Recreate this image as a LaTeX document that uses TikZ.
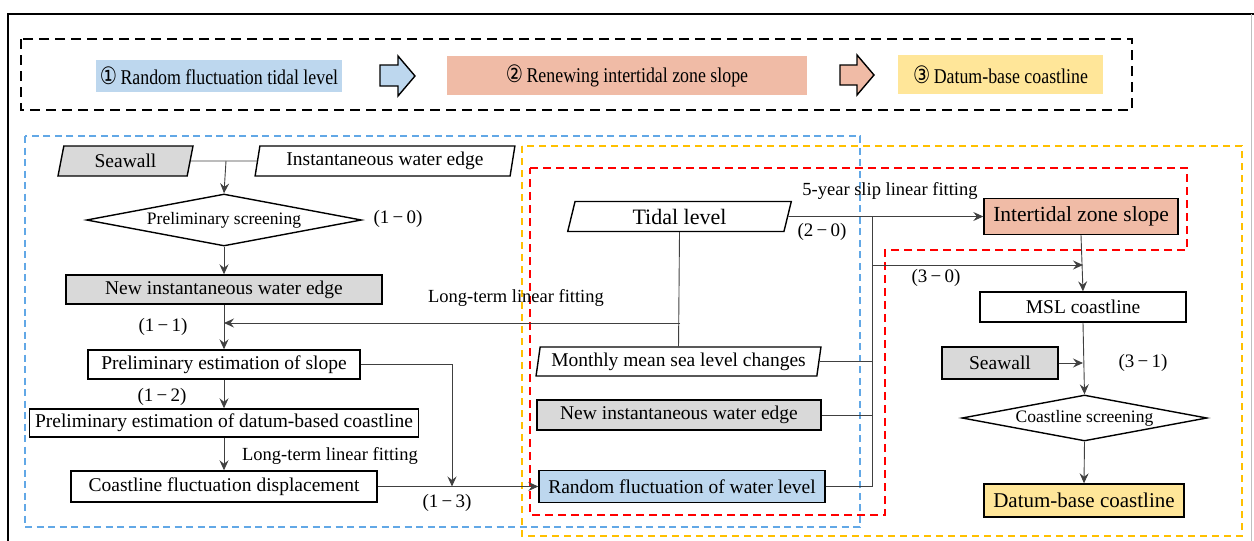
\documentclass[tikz,border=0pt]{standalone}
\usepackage{fontspec}
\setmainfont{Liberation Serif}
\newfontfamily\circfont[FakeStretch=0.8]{DejaVu Sans}
\newfontfamily\legendfont[FakeStretch=0.85]{Liberation Serif}
\usetikzlibrary{shapes.geometric,arrows.meta}
\definecolor{fillblue}{HTML}{BDD7EE}
\definecolor{fillsalmon}{HTML}{F0BBA6}
\definecolor{fillyellow}{HTML}{FFE699}
\definecolor{fillgrey}{HTML}{D9D9D9}
\definecolor{dashblue}{HTML}{62A8E6}
\definecolor{dashyellow}{HTML}{FFC000}
\definecolor{dashred}{HTML}{FF0000}
\definecolor{wire}{HTML}{404040}
\newcommand{\fs}[1]{\fontsize{#1}{#1}\selectfont}
\begin{document}
\begin{tikzpicture}[x=1pt,y=-1pt,
  box/.style={draw=black, line width=1.4pt, rectangle, inner sep=0pt, font=\fs{19.5}},
  para/.style={draw=black, line width=1.4pt, trapezium, trapezium left angle=78,
    trapezium right angle=102, trapezium stretches=true, inner sep=0pt, font=\fs{19.5}},
  decide/.style={draw=black, line width=1.4pt, diamond, aspect=5.3, inner sep=0pt, font=\fs{17.5}},
  legend/.style={rectangle, inner sep=0pt, font=\legendfont\fs{21}},
  lbl/.style={inner sep=0pt, font=\fs{19}},
  wirel/.style={draw=wire, line width=0.9pt},
  arr/.style={wirel, -{Stealth[length=10pt,width=9pt,inset=3.5pt]}},
  groupbox/.style={line width=1.6pt},
  blockarrow/.style={draw=black, line width=1.4pt, line join=miter}
]
\useasboundingbox (0,0) rectangle (1254,541);

% outer frame
\draw[line width=2pt, black] (8,541) -- (8,14) -- (1254,14);
\draw[line width=1pt, black!25] (1251,14) -- (1251,541);

% legend strip
\draw[line width=2.5pt, dash pattern=on 10pt off 6pt] (21,39) rectangle (1132,110);
\node[legend, fill=fillblue, minimum width=246pt, minimum height=32pt] (lg1) at (219,76)
  {{\circfont\fs{24}①}\,Random fluctuation tidal level};
\node[legend, fill=fillsalmon, minimum width=360pt, minimum height=39pt] (lg2) at (627,75.5)
  {{\circfont\fs{24}②}\,Renewing intertidal zone slope};
\node[legend, fill=fillyellow, minimum width=205pt, minimum height=39pt] (lg3) at (1000.5,74.5)
  {{\circfont\fs{24}③}\,Datum-base coastline};
\draw[blockarrow, fill=fillblue] (380,65) -- (398,65) -- (398,56) -- (415,76) -- (398,96) -- (398,86) -- (380,86) -- cycle;
\draw[blockarrow, fill=fillsalmon] (840,65) -- (857,65) -- (857,55) -- (874,75) -- (857,95) -- (857,85) -- (840,85) -- cycle;

% group outlines
\draw[groupbox, dashblue, dash pattern=on 7pt off 4.5pt] (25,136) rectangle (860,527);
\draw[groupbox, dashyellow, dash pattern=on 7pt off 5pt] (522,146) rectangle (1242,536);
\draw[line width=2pt, dashred, dash pattern=on 8pt off 5pt]
  (530,168) -- (1187,168) -- (1187,250) -- (885,250) -- (885,515) -- (530,515) -- cycle;

% left column
\node[para, fill=fillgrey, minimum width=135pt, minimum height=30pt] (sw1) at (125.5,161) {Seawall};
\node[para, fill=white, minimum width=260pt, minimum height=30pt] (iwe) at (385,161) {Instantaneous water edge};
\node[decide, fill=white, minimum width=275pt, minimum height=52pt] (ps) at (224,220) {Preliminary screening};
\node[box, fill=fillgrey, minimum width=316pt, minimum height=29pt] (niw1) at (224,289.5) {New instantaneous water edge};
\node[box, fill=white, minimum width=272pt, minimum height=29pt] (pes) at (224,364.5) {Preliminary estimation of slope};
\node[box, fill=white, minimum width=389pt, minimum height=28pt] (pedc) at (224,423) {Preliminary estimation of datum-based coastline};
\node[box, fill=white, minimum width=306pt, minimum height=31pt] (cfd) at (224,486.5) {Coastline fluctuation displacement};

% middle column
\node[para, fill=white, minimum width=225pt, minimum height=30pt, font=\fs{22}] (tidal) at (679.5,216.5) {Tidal level};
\node[para, fill=white, minimum width=285pt, minimum height=29pt] (mmsl) at (678.5,361.5) {Monthly mean sea level changes};
\node[box, fill=fillgrey, minimum width=284pt, minimum height=30pt] (niw2) at (679,415) {New instantaneous water edge};
\node[box, fill=fillblue, minimum width=286pt, minimum height=32pt] (rfw) at (682,486.5) {Random fluctuation of water level};

% right column
\node[box, fill=fillsalmon, minimum width=194pt, minimum height=36pt, font=\fs{21.5}] (isl) at (1081,216.5) {Intertidal zone slope};
\node[box, fill=white, minimum width=206pt, minimum height=30pt] (msl) at (1083,307) {MSL coastline};
\node[box, fill=fillgrey, minimum width=116pt, minimum height=32pt] (sw2) at (1000,363) {Seawall};
\node[decide, fill=white, minimum width=245pt, minimum height=46pt, aspect=5.3] (cs) at (1084.5,418) {Coastline screening};
\node[box, fill=fillyellow, minimum width=200pt, minimum height=33pt, font=\fs{21}] (dbc) at (1084,500.5) {Datum-base coastline};

% junction points
\coordinate (jtop) at (226,161);
\coordinate (jlong) at (680,323);
\coordinate (jslope) at (452,486.5);
\coordinate (ctop) at (872,216.5);
\coordinate (cbot) at (872,486.5);
\coordinate (c30) at (872,265);

% connectors, left column
\draw[wirel] (sw1.east) -- (iwe.west);
\draw[arr] (jtop) -- (ps.north);
\draw[arr] (ps.south) -- (niw1.north);
\draw[arr] (niw1.south) -- (pes.north);
\draw[arr] (pes.south) -- (pedc.north);
\draw[arr] (pedc.south) -- (cfd.north);
\draw[arr] (pes.east) -| (jslope);
\draw[arr] (cfd.east) -- (rfw.west);

% connectors, middle column
\draw[wirel] (tidal.south) -- (mmsl.north);
\draw[arr] (jlong) -- (niw1.south |- jlong);
\draw[arr] (tidal.east) -- (isl.west);
\draw[wirel] (ctop) -- (cbot);
\draw[wirel] (mmsl.east) -- (mmsl.east -| ctop);
\draw[wirel] (niw2.east) -- (niw2.east -| ctop);
\draw[wirel] (rfw.east) -- (cbot);
\draw[arr] (c30) -- (c30 -| msl.north);

% connectors, right column
\draw[arr] (isl.south) -- (msl.north);
\draw[arr] (msl.south) -- (cs.north);
\draw[arr] (sw2.east) -- (sw2.east -| msl.south);
\draw[arr] (cs.south) -- (dbc.north);

% labels
\node[lbl] (l10) at (398,219) {(1\,−\,0)};
\node[lbl] (l11) at (163,327) {(1\,−\,1)};
\node[lbl] (l12) at (162,397) {(1\,−\,2)};
\node[lbl] (l13) at (447,503) {(1\,−\,3)};
\node[lbl] (l20) at (822,232) {(2\,−\,0)};
\node[lbl] (l30) at (936,278) {(3\,−\,0)};
\node[lbl] (l31) at (1143,363) {(3\,−\,1)};
\node[lbl, font=\fs{18.5}] (ltl1) at (516,298) {Long-term linear fitting};
\node[lbl, font=\fs{18.5}] (ltl2) at (330,456) {Long-term linear fitting};
\node[lbl, font=\fs{18.5}] (slip) at (890,191) {5-year slip linear fitting};
\end{tikzpicture}
\end{document}
